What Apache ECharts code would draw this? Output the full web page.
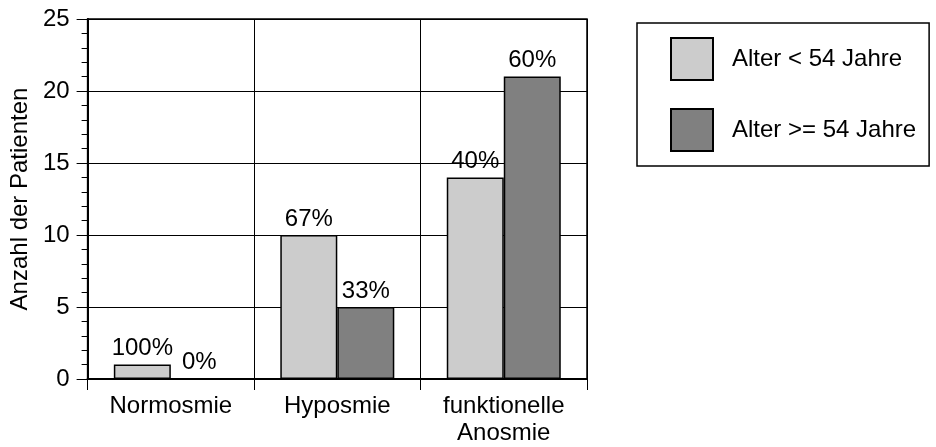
<!DOCTYPE html>
<html>
<head>
<meta charset="utf-8">
<script src="https://cdn.jsdelivr.net/npm/echarts@6/dist/echarts.min.js"></script>
<style>
  html, body { margin: 0; padding: 0; background: #fff; }
  #chart { width: 936px; height: 447px; }
</style>
</head>
<body>
<div id="chart"></div>
<script>
// Olfactory test outcome by age group
const categories = ['Normosmie', 'Hyposmie', 'funktionelle\nAnosmie'];
const seriesNames = ['Alter < 54 Jahre', 'Alter >= 54 Jahre'];
const youngerCounts = [1, 10, 14];
const olderCounts = [0, 5, 21];
const youngerShare = ['100%', '67%', '40%'];
const olderShare = ['0%', '33%', '60%'];
const yTicks = [0, 5, 10, 15, 20, 25];

const FONT = '"Liberation Sans", Arial, sans-serif';
const FS = 24;

const chart = echarts.init(document.getElementById('chart'), null, { renderer: 'canvas' });

function barSeries(name, values, shares, color) {
  return {
    name: name,
    type: 'bar',
    data: values,
    barWidth: 57,
    barGap: '0%',
    itemStyle: { color: color, borderColor: '#000', borderWidth: 1.5 },
    label: {
      show: true,
      position: 'top',
      distance: 4,
      color: '#000',
      fontFamily: FONT,
      fontSize: FS,
      formatter: p => shares[p.dataIndex]
    },
    z: 3
  };
}

chart.setOption({
  animation: false,
  backgroundColor: '#fff',
  textStyle: { fontFamily: FONT },
  grid: {
    left: 83, right: 349, top: 19, bottom: 68,
    show: true, borderColor: '#000', borderWidth: 1.5
  },
  legend: {
    orient: 'vertical',
    left: 637, top: 23,
    itemWidth: 42, itemHeight: 42, itemGap: 27,
    padding: [14, 13, 14, 33],
    borderColor: '#000', borderWidth: 1.5,
    icon: 'rect',
    textStyle: { fontFamily: FONT, fontSize: FS, color: '#000', padding: [0, 0, 0, 14] },
    data: seriesNames
  },
  xAxis: {
    type: 'category',
    data: categories,
    boundaryGap: true,
    axisLine: { lineStyle: { color: '#000', width: 2 } },
    axisTick: { show: true, length: 11, lineStyle: { color: '#000', width: 1 } },
    axisLabel: { color: '#000', fontFamily: FONT, fontSize: FS, margin: 14, lineHeight: 27, interval: 0 },
    splitLine: { show: true, interval: 0, lineStyle: { color: '#000', width: 1 } }
  },
  yAxis: {
    type: 'value',
    min: yTicks[0], max: yTicks[yTicks.length - 1], interval: 5,
    name: 'Anzahl der Patienten',
    nameLocation: 'middle',
    nameGap: 48,
    nameRotate: 90,
    nameTextStyle: { color: '#000', fontFamily: FONT, fontSize: FS },
    axisLine: { show: true, lineStyle: { color: '#000', width: 2 } },
    axisTick: { show: true, length: 11, lineStyle: { color: '#000', width: 1 } },
    minorTick: { show: true, splitNumber: 5, length: 6, lineStyle: { color: '#000', width: 1 } },
    axisLabel: { color: '#000', fontFamily: FONT, fontSize: FS, margin: 18 },
    splitLine: { show: true, lineStyle: { color: '#000', width: 1 } }
  },
  series: [
    barSeries(seriesNames[0], youngerCounts, youngerShare, '#cccccc'),
    barSeries(seriesNames[1], olderCounts, olderShare, '#808080')
  ]
});
</script>
</body>
</html>
